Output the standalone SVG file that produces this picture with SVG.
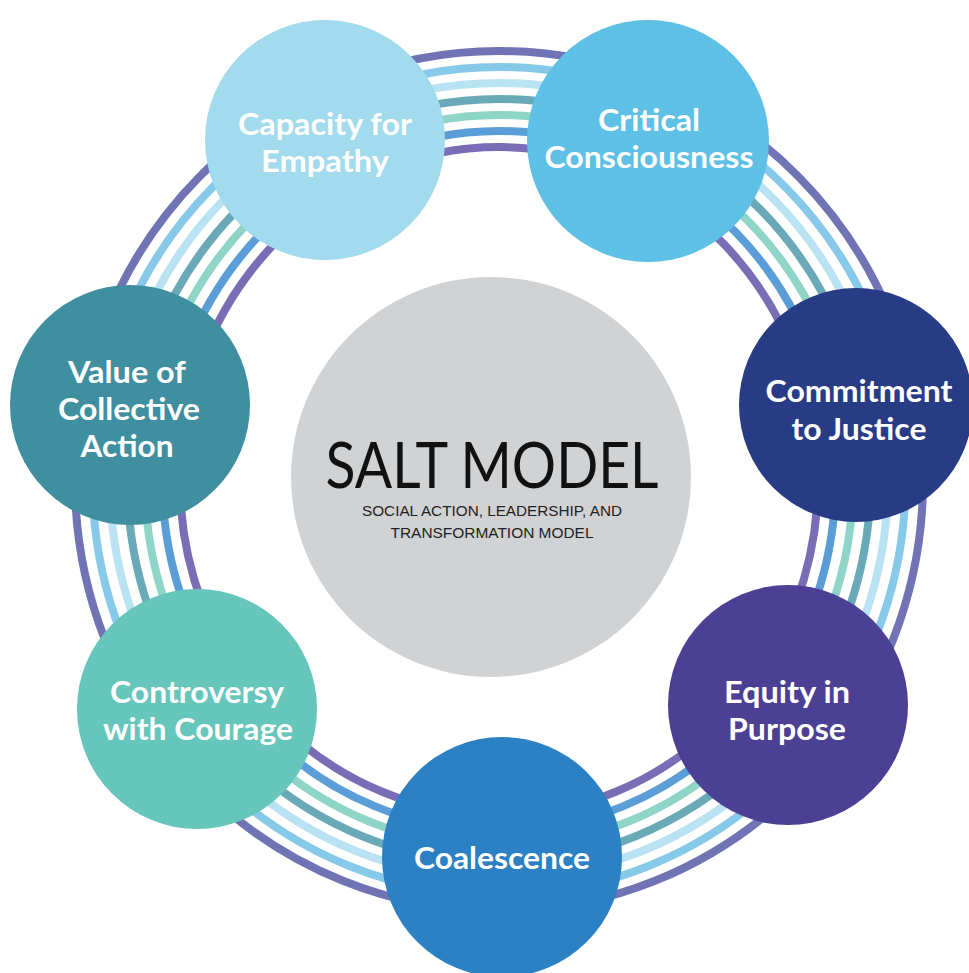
<svg xmlns="http://www.w3.org/2000/svg" width="969" height="973" viewBox="0 0 969 973">
  <style>
    .band { fill: none; stroke-width: 8; }
    .node-label { font-family: Lato, "Open Sans", "Liberation Sans", sans-serif; font-weight: 700; font-size: 30px; fill: #ffffff; text-anchor: middle; }
    .title { font-family: Lato, "Liberation Sans", sans-serif; font-weight: 400; font-size: 64px; fill: #111111; text-anchor: middle; }
    .subtitle { font-family: "Liberation Sans", Arial, sans-serif; font-weight: 400; font-size: 15px; fill: #222222; text-anchor: middle; }
  </style>
  <rect width="969" height="973" fill="#ffffff"/>

  <g id="connectors">
    <ellipse class="band" cx="499" cy="481" rx="424" ry="430" stroke="#7074b4"/>
    <ellipse class="band" cx="499" cy="481" rx="406.5" ry="414" stroke="#86c9e8"/>
    <ellipse class="band" cx="499" cy="481" rx="389" ry="398" stroke="#b9e2f2"/>
    <ellipse class="band" cx="499" cy="481" rx="371.5" ry="382" stroke="#6aaab8"/>
    <ellipse class="band" cx="499" cy="481" rx="354" ry="366" stroke="#8ed5c8"/>
    <ellipse class="band" cx="499" cy="481" rx="336.5" ry="350" stroke="#5b9ed7"/>
    <ellipse class="band" cx="499" cy="481" rx="319" ry="334" stroke="#7b6cb6"/>
  </g>

  <g id="salt-model">
    <circle cx="491" cy="477" r="200" fill="#d1d2d4"/>
    <text class="title" x="492" y="488" textLength="333" lengthAdjust="spacingAndGlyphs">SALT MODEL</text>
    <text class="subtitle" x="492" y="516" textLength="260" lengthAdjust="spacingAndGlyphs">SOCIAL ACTION, LEADERSHIP, AND</text>
    <text class="subtitle" x="492" y="538" textLength="203" lengthAdjust="spacingAndGlyphs">TRANSFORMATION MODEL</text>
  </g>

  <g id="capacity-for-empathy">
    <circle cx="325" cy="140" r="120" fill="#a3dbee"/>
    <text class="node-label" x="325" y="135" textLength="174" lengthAdjust="spacingAndGlyphs">Capacity for</text>
    <text class="node-label" x="325" y="172" textLength="128" lengthAdjust="spacingAndGlyphs">Empathy</text>
  </g>

  <g id="critical-consciousness">
    <circle cx="648" cy="141" r="121" fill="#5ec0e4"/>
    <text class="node-label" x="649" y="131" textLength="102" lengthAdjust="spacingAndGlyphs">Critical</text>
    <text class="node-label" x="649" y="168" textLength="209" lengthAdjust="spacingAndGlyphs">Consciousness</text>
  </g>

  <g id="commitment-to-justice">
    <circle cx="856" cy="405" r="117" fill="#283c85"/>
    <text class="node-label" x="859" y="402" textLength="187" lengthAdjust="spacingAndGlyphs">Commitment</text>
    <text class="node-label" x="859" y="440" textLength="135" lengthAdjust="spacingAndGlyphs">to Justice</text>
  </g>

  <g id="equity-in-purpose">
    <circle cx="788" cy="705" r="120" fill="#4b4094"/>
    <text class="node-label" x="787" y="703" textLength="126" lengthAdjust="spacingAndGlyphs">Equity in</text>
    <text class="node-label" x="787" y="740" textLength="118" lengthAdjust="spacingAndGlyphs">Purpose</text>
  </g>

  <g id="coalescence">
    <circle cx="502" cy="857" r="120" fill="#2c80c4"/>
    <text class="node-label" x="502" y="869" textLength="176" lengthAdjust="spacingAndGlyphs">Coalescence</text>
  </g>

  <g id="controversy-with-courage">
    <circle cx="197" cy="709" r="120" fill="#67c6bb"/>
    <text class="node-label" x="197" y="703" textLength="174" lengthAdjust="spacingAndGlyphs">Controversy</text>
    <text class="node-label" x="198" y="740" textLength="190" lengthAdjust="spacingAndGlyphs">with Courage</text>
  </g>

  <g id="value-of-collective-action">
    <circle cx="130" cy="405" r="120" fill="#3f8fa1"/>
    <text class="node-label" x="127" y="383" textLength="118" lengthAdjust="spacingAndGlyphs">Value of</text>
    <text class="node-label" x="129" y="420" textLength="142" lengthAdjust="spacingAndGlyphs">Collective</text>
    <text class="node-label" x="127" y="457" textLength="93" lengthAdjust="spacingAndGlyphs">Action</text>
  </g>
</svg>
